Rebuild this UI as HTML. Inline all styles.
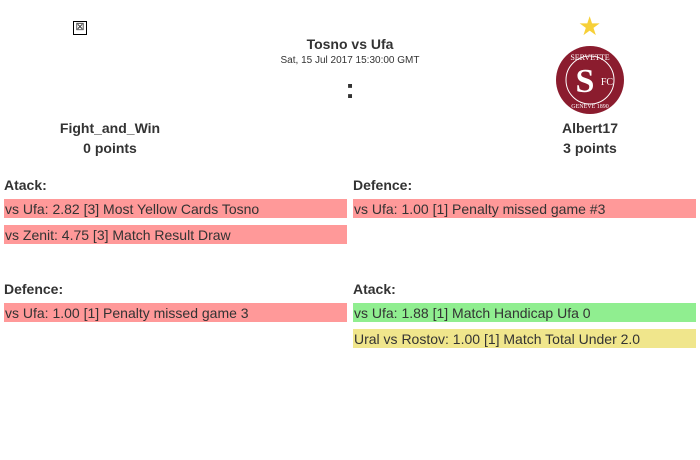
<!DOCTYPE html>
<html><head><style>
body{margin:0;width:700px;height:460px;background:#fff;font-family:"Liberation Sans",Arial,sans-serif;color:#333;position:relative;overflow:hidden}
.a{position:absolute;white-space:nowrap}
.c{text-align:center;transform:translateX(-50%)}
.b{font-weight:bold}
.row{position:absolute;height:19px;line-height:20px;font-size:14px;padding-left:1px;box-sizing:border-box}
.r{background:#ff9999}.g{background:#90ee90}.y{background:#f0e68c}
</style></head><body>
<div class="a" style="left:73px;top:21px;width:14px;height:14px;border:1.5px solid #000;box-sizing:border-box;font-size:11px;line-height:11px;text-align:center">⊠</div>
<div class="a c b" style="left:350px;top:36px;font-size:14px">Tosno vs Ufa</div>
<div class="a c" style="left:350px;top:55px;font-size:10px">Sat, 15 Jul 2017 15:30:00 GMT</div>
<div class="a c b" style="left:350px;top:74px;font-size:28px;line-height:30px">:</div>
<div class="a" style="left:578px;top:12px;font-size:26px;color:#f7d038;line-height:28px">★</div>
<svg class="a" style="left:555px;top:45px" width="70" height="70" viewBox="0 0 70 70">
<circle cx="35" cy="35" r="34" fill="#8b1c2e"/>
<circle cx="35" cy="35" r="24" fill="none" stroke="#fff" stroke-width="1"/>
<text x="30" y="47" font-family="Liberation Serif" font-size="34" font-weight="bold" fill="#fff" text-anchor="middle">S</text>
<text x="52" y="40" font-family="Liberation Serif" font-size="10" fill="#fff" text-anchor="middle">FC</text>
<text x="35" y="15" font-family="Liberation Serif" font-size="8" fill="#fff" text-anchor="middle">SERVETTE</text>
<text x="35" y="63" font-family="Liberation Serif" font-size="6" fill="#fff" text-anchor="middle">GENEVE 1890</text>
</svg>
<div class="a c b" style="left:110px;top:120px;font-size:14px">Fight_and_Win</div>
<div class="a c b" style="left:110px;top:140px;font-size:14px">0 points</div>
<div class="a c b" style="left:590px;top:120px;font-size:14px">Albert17</div>
<div class="a c b" style="left:590px;top:140px;font-size:14px">3 points</div>
<div class="a b" style="left:4px;top:177px;font-size:14px">Atack:</div>
<div class="a b" style="left:353px;top:177px;font-size:14px">Defence:</div>
<div class="row r" style="left:4px;top:199px;width:343px">vs Ufa: 2.82 [3] Most Yellow Cards Tosno</div>
<div class="row r" style="left:4px;top:225px;width:343px">vs Zenit: 4.75 [3] Match Result Draw</div>
<div class="row r" style="left:353px;top:199px;width:343px">vs Ufa: 1.00 [1] Penalty missed game #3</div>
<div class="a b" style="left:4px;top:281px;font-size:14px">Defence:</div>
<div class="a b" style="left:353px;top:281px;font-size:14px">Atack:</div>
<div class="row r" style="left:4px;top:303px;width:343px">vs Ufa: 1.00 [1] Penalty missed game 3</div>
<div class="row g" style="left:353px;top:303px;width:343px">vs Ufa: 1.88 [1] Match Handicap Ufa 0</div>
<div class="row y" style="left:353px;top:329px;width:343px">Ural vs Rostov: 1.00 [1] Match Total Under 2.0</div>
</body></html>
